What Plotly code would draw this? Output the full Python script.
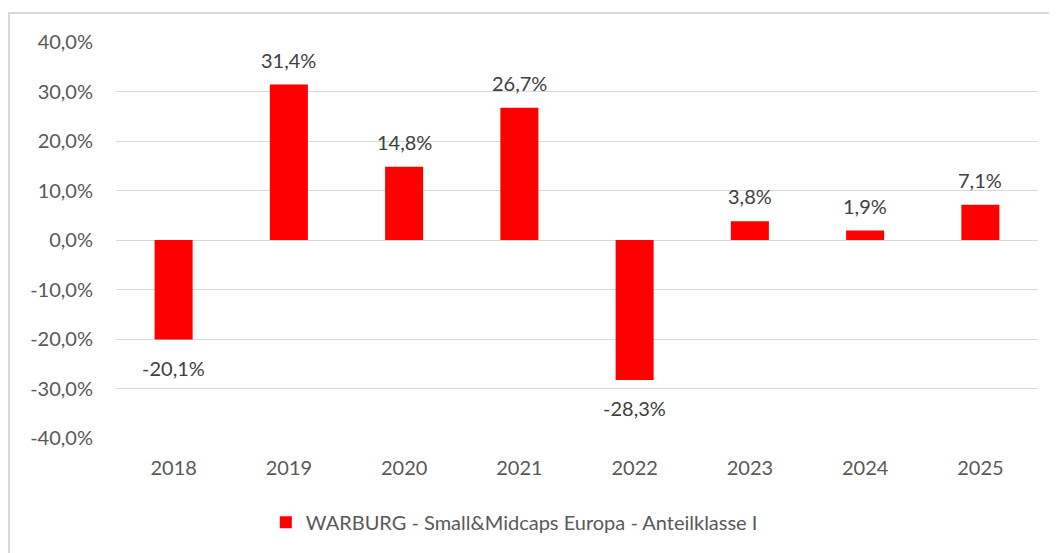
import plotly.graph_objects as go

years = ["2018", "2019", "2020", "2021", "2022", "2023", "2024", "2025"]
returns = [-20.1, 31.4, 14.8, 26.7, -28.3, 3.8, 1.9, 7.1]
labels = ["-20,1%", "31,4%", "14,8%", "26,7%", "-28,3%", "3,8%", "1,9%", "7,1%"]
tick_vals = [-40, -30, -20, -10, 0, 10, 20, 30, 40]
tick_text = ["-40,0%", "-30,0%", "-20,0%", "-10,0%", "0,0%", "10,0%", "20,0%", "30,0%", "40,0%"]
series_name = "WARBURG - Small&Midcaps Europa - Anteilklasse I"

FONT = "Lato, Open Sans, sans-serif"

fig = go.Figure()
fig.add_trace(go.Bar(
    x=years, y=returns, name=series_name,
    marker=dict(color="#FF0000", line=dict(width=0)),
    width=0.33,
))

annotations = []
for i, (v, lab) in enumerate(zip(returns, labels)):
    annotations.append(dict(
        x=i, y=v, xref="x", yref="y", text=lab, showarrow=False,
        yanchor="middle", yshift=25 if v >= 0 else -28,
        font=dict(family=FONT, size=20, color="#404040"),
    ))

fig.update_layout(
    width=1049, height=545,
    margin=dict(l=108, r=19, t=34, b=114),
    paper_bgcolor="white", plot_bgcolor="white",
    showlegend=True,
    annotations=annotations,
    legend=dict(orientation="h", x=0.432, xanchor="center", y=-0.21, yanchor="middle",
                font=dict(family=FONT, size=20, color="#595959")),
    yaxis=dict(range=[-40, 40], tickvals=tick_vals, ticktext=tick_text,
               showgrid=True, gridcolor="#D9D9D9", gridwidth=1.3, zeroline=False,
               showline=False, ticks="", ticklabelstandoff=22,
               tickfont=dict(family=FONT, size=20, color="#595959")),
    xaxis=dict(type="category", range=[-0.5, len(years) - 0.5],
               showgrid=False, showline=False, ticks="", ticklabelstandoff=16,
               tickfont=dict(family=FONT, size=20, color="#595959")),
    shapes=[dict(type="rect", xref="paper", yref="paper",
                 x0=-107/922, x1=1.05, y0=-0.5, y1=(439-13)/397,
                 line=dict(color="#D9D9D9", width=2), fillcolor="rgba(0,0,0,0)", layer="below")],
)

fig.write_html("out.html")
